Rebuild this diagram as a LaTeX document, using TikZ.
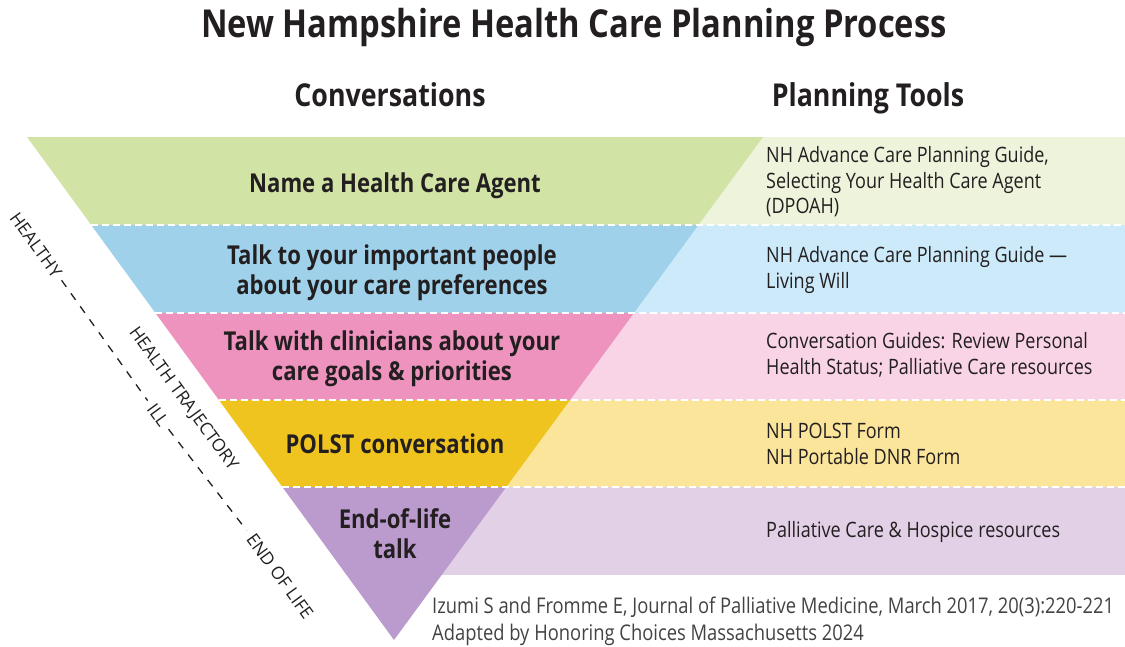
\documentclass[tikz,border=0pt]{standalone}
\usepackage{fontspec}
\setmainfont{Open Sans}
\newfontfamily\cond{Open Sans}[FakeStretch=0.85]
\definecolor{txt}{HTML}{231F20}
\definecolor{gD}{HTML}{D2E3A6}
\definecolor{gL}{HTML}{EEF3DC}
\definecolor{bD}{HTML}{9FD2EA}
\definecolor{bL}{HTML}{CCEAF9}
\definecolor{pD}{HTML}{EE92BE}
\definecolor{pL}{HTML}{F8D4E6}
\definecolor{yD}{HTML}{F0C41E}
\definecolor{yL}{HTML}{FAE59B}
\definecolor{vD}{HTML}{BB9BCD}
\definecolor{vL}{HTML}{E2D0E6}
\tikzset{
  convtext/.style={text=txt, align=center, font=\cond\bfseries\fontsize{26}{30}\selectfont, inner sep=0pt},
  tooltext/.style={text=txt, align=left, anchor=west, font=\cond\fontsize{21.2}{25.5}\selectfont, inner sep=0pt},
  headtext/.style={text=txt, font=\cond\bfseries\fontsize{31.5}{36}\selectfont, inner sep=0pt, anchor=base},
  sidetext/.style={text=txt, font=\fontsize{17.5}{20}\selectfont, inner sep=0pt, rotate=-54},
  bandline/.style={white, line width=1.6pt, dash pattern=on 7pt off 4pt},
  sidedash/.style={txt, line width=1.3pt, dash pattern=on 8pt off 8pt, shorten <=6pt, shorten >=6pt},
}
\begin{document}
\begin{tikzpicture}[x=1pt,y=-1pt]
\useasboundingbox (0,0) rectangle (1125,646);
% triangle corners
\coordinate (A) at (27,137);
\coordinate (B) at (763,137);
\coordinate (C) at (394,640);
% light rectangles
\fill[gL] (390,137) rectangle (1125,225);
\fill[bL] (390,225) rectangle (1125,313);
\fill[pL] (390,313) rectangle (1125,400);
\fill[yL] (390,400) rectangle (1125,487);
\fill[vL] (390,487) rectangle (1125,575);
% triangle bands
\begin{scope}
\clip (A) -- (B) -- (C) -- cycle;
\fill[gD] (0,137) rectangle (800,225);
\fill[bD] (0,225) rectangle (800,313);
\fill[pD] (0,313) rectangle (800,400);
\fill[yD] (0,400) rectangle (800,487);
\fill[vD] (0,487) rectangle (800,646);
\end{scope}
% dashed separators
\foreach \y/\xl in {225/91.2, 313/155.4, 400/218.9, 487/282.4}{
  \draw[bandline] (\xl,\y) -- (1125,\y);
}
% title and headers
\node[headtext, font=\cond\bfseries\fontsize{38.5}{44}\selectfont] (title) at (574,37) {New Hampshire Health Care Planning Process};
\node[headtext] (hconv) at (390,106) {Conversations};
\node[headtext] (htools) at (868,106) {Planning Tools};
% conversations
\node[convtext] (c1) at (395,186) {Name a Health Care Agent};
\node[convtext] (c2) at (392,273) {Talk to your important people\\about your care preferences};
\node[convtext] (c3) at (392,359) {Talk with clinicians about your\\care goals \& priorities};
\node[convtext] (c4) at (395,444) {POLST conversation};
\node[convtext] (c5) at (395,534) {End-of-life\\talk};
% tools
\node[tooltext] (t1) at (766,182) {NH Advance Care Planning Guide,\\Selecting Your Health Care Agent\\(DPOAH)};
\node[tooltext] (t2) at (766,270) {NH Advance Care Planning Guide —\\Living Will};
\node[tooltext] (t3) at (766,355) {Conversation Guides: Review Personal\\Health Status; Palliative Care resources};
\node[tooltext] (t4) at (766,444) {NH POLST Form\\NH Portable DNR Form};
\node[tooltext] (t5) at (766,532) {Palliative Care \& Hospice resources};
% side labels
\node[sidetext] (healthy) at (36,245) {HEALTHY};
\node[sidetext] (ill) at (158,415) {ILL};
\node[sidetext] (eol) at (280,576) {END OF LIFE};
\node[sidetext] (traj) at (183,399) {HEALTH TRAJECTORY};
\draw[sidedash] (healthy.east) -- (ill.west);
\draw[sidedash] (ill.east) -- (eol.west);
% footer
\node[tooltext, text=txt!85, font=\cond\fontsize{21.6}{27}\selectfont] (foot) at (432,621) {Izumi S and Fromme E, Journal of Palliative Medicine, March 2017, 20(3):220-221\\Adapted by Honoring Choices Massachusetts 2024};
\end{tikzpicture}
\end{document}
